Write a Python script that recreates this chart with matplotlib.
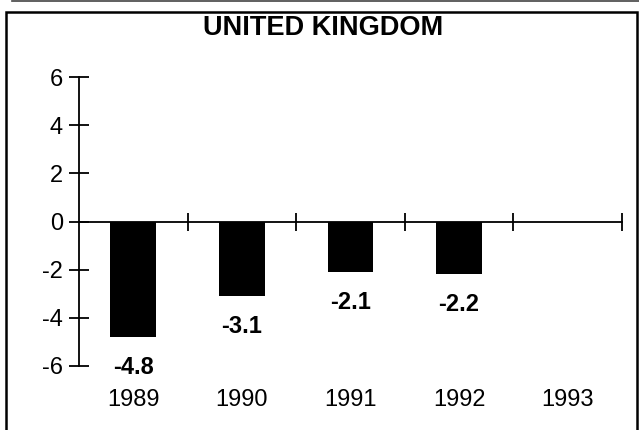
import numpy as np
import matplotlib
matplotlib.use('Agg')
import matplotlib.pyplot as plt
from matplotlib.patches import Rectangle
from matplotlib.lines import Line2D

plt.rcParams['font.family'] = ['Liberation Sans', 'DejaVu Sans']

years = ['1989', '1990', '1991', '1992', '1993']
values = [-4.8, -3.1, -2.1, -2.2, np.nan]
value_labels = ['-4.8', '-3.1', '-2.1', '-2.2', '']
y_ticks = [-6, -4, -2, 0, 2, 4, 6]
title = 'UNITED KINGDOM'

W, H, DPI = 639, 430, 100
fig = plt.figure(figsize=(W / DPI, H / DPI), dpi=DPI)
ax = fig.add_axes([79 / W, 1 - 366 / H, (622 - 79) / W, (366 - 77) / H])

x = np.arange(len(years))
ax.bar(x, values, width=0.42, color='black', zorder=2)

ax.set_xlim(-0.5, len(years) - 0.5)
ax.set_ylim(-6, 6)

# spines: left axis only, x axis line at zero
for s in ('top', 'right'):
    ax.spines[s].set_visible(False)
ax.spines['bottom'].set_position(('data', 0))
ax.spines['left'].set_linewidth(1.3)
ax.spines['bottom'].set_linewidth(1.3)

ax.set_yticks(y_ticks)
ax.set_yticklabels([str(t) for t in y_ticks])
ax.tick_params(axis='y', direction='inout', length=15, width=1.3,
               labelsize=17, pad=4)

# category boundary ticks on the zero line, no labels
ax.set_xticks(x + 0.5)
ax.set_xticklabels([])
ax.tick_params(axis='x', direction='inout', length=13, width=1.3)

# year labels below the plot
for xi, yr in zip(x, years):
    ax.annotate(yr, xy=(xi, 0), xycoords=('data', 'axes fraction'),
                xytext=(0, -34), textcoords='offset pixels',
                ha='center', va='center', fontsize=17)

# value labels under each bar
for xi, v, lab in zip(x, values, value_labels):
    if lab:
        ax.annotate(lab, xy=(xi, v), xytext=(0, -30),
                    textcoords='offset pixels', ha='center', va='center',
                    fontsize=17, fontweight='bold')

fig.text(323 / W, 1 - 28 / H, title, ha='center', va='center',
         fontsize=19.5, fontweight='bold')

# scanned frame around the chart
fig.patches.append(Rectangle((5.5 / W, -0.01), (637 - 5.5) / W, 1 - 12 / H + 0.01,
                             transform=fig.transFigure, fill=False,
                             edgecolor='black', linewidth=1.8))
fig.lines.append(Line2D([12 / W, 1], [1 - 1 / H, 1 - 1 / H],
                        transform=fig.transFigure, color='#444444', linewidth=1.2))

fig.savefig('out.png', dpi=DPI)
